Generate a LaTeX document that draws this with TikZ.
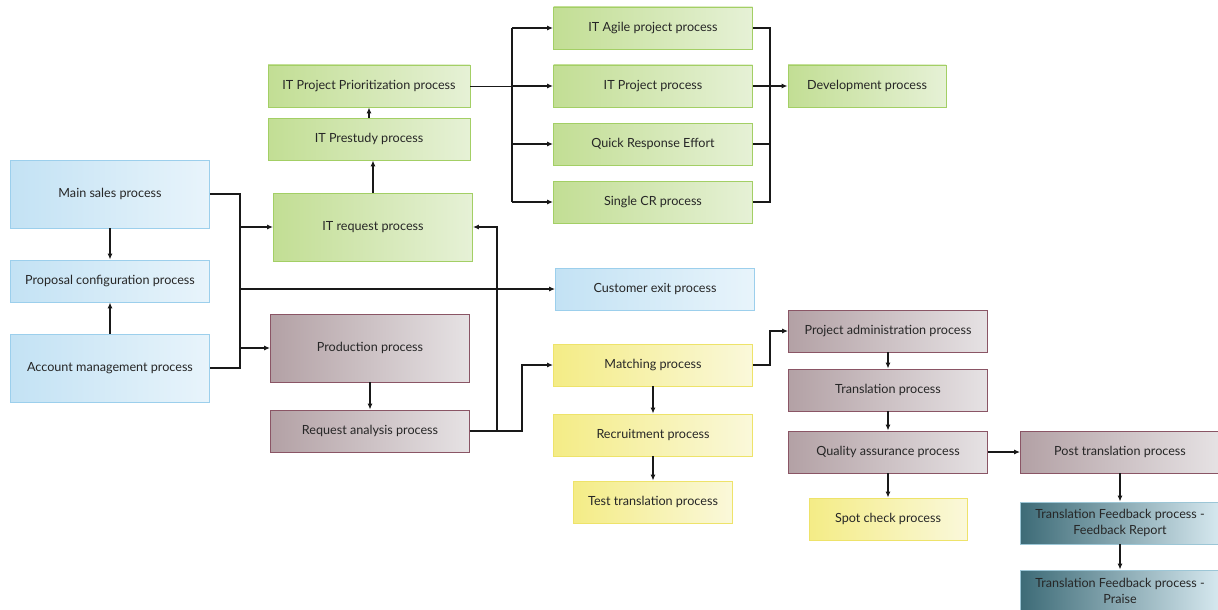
\documentclass[tikz,border=0pt]{standalone}
\usepackage{fontspec}
\setmainfont{Lato}
\usetikzlibrary{arrows.meta}
\definecolor{blueL}{HTML}{C3E2F4}
\definecolor{blueR}{HTML}{E8F4FB}
\definecolor{blueD}{HTML}{9CCFEC}
\definecolor{greenL}{HTML}{C2DE94}
\definecolor{greenR}{HTML}{E6F1D6}
\definecolor{greenD}{HTML}{A3CF65}
\definecolor{mauveL}{HTML}{B3A1A5}
\definecolor{mauveR}{HTML}{E6E2E4}
\definecolor{mauveD}{HTML}{8A5565}
\definecolor{yellowL}{HTML}{F4EC86}
\definecolor{yellowR}{HTML}{FAF8DA}
\definecolor{yellowD}{HTML}{EEE36A}
\definecolor{tealL}{HTML}{3D6B77}
\definecolor{tealR}{HTML}{D6E8EF}
\definecolor{tealD}{HTML}{9CC6D6}
\tikzset{
  proc/.style={draw, line width=0.8pt, minimum width=199pt, minimum height=42pt,
    inner sep=2pt, align=center, text=black!85, font=\fontsize{12.6}{16}\selectfont},
  bluebox/.style={proc, left color=blueL, right color=blueR, draw=blueD},
  greenbox/.style={proc, left color=greenL, right color=greenR, draw=greenD},
  mauvebox/.style={proc, left color=mauveL, right color=mauveR, draw=mauveD},
  yellowbox/.style={proc, left color=yellowL, right color=yellowR, draw=yellowD},
  tealbox/.style={proc, left color=tealL, right color=tealR, draw=tealD},
  link/.style={line width=1.3pt, black!90},
  arr/.style={link, -{Latex[length=6pt,width=5pt]}}
}
\begin{document}
\begin{tikzpicture}[x=1pt,y=1pt]
\useasboundingbox (0,0) rectangle (1218,-610);

   \node[bluebox, minimum height=68pt] at (110,-194) (mainsales) {Main sales process};
   \node[bluebox] at (110,-281) (proposal) {Proposal configuration process};
   \node[bluebox, minimum height=68pt] at (110,-368) (account) {Account management process};
   \node[bluebox] at (655,-289) (custexit) {Customer exit process};

   \node[greenbox, minimum height=68pt] at (373,-227) (itrequest) {IT request process};
   \node[greenbox, minimum width=202pt] at (369,-139) (prestudy) {IT Prestudy process};
   \node[greenbox, minimum width=202pt] at (369,-86) (priority) {IT Project Prioritization process};
   \node[greenbox] at (653,-28) (agile) {IT Agile project process};
   \node[greenbox] at (653,-86) (itproject) {IT Project process};
   \node[greenbox] at (653,-144) (quick) {Quick Response Effort};
   \node[greenbox] at (653,-202) (singlecr) {Single CR process};
   \node[greenbox, minimum width=158pt] at (867,-86) (develop) {Development process};

   \node[mauvebox, minimum height=68pt] at (370,-348) (production) {Production process};
   \node[mauvebox] at (370,-431) (reqanalysis) {Request analysis process};
   \node[mauvebox] at (888,-331) (projadmin) {Project administration process};
   \node[mauvebox] at (888,-390) (translation) {Translation process};
   \node[mauvebox] at (888,-452) (quality) {Quality assurance process};
   \node[mauvebox] at (1120,-452) (posttrans) {Post translation process};

   \node[yellowbox] at (653,-365) (matching) {Matching process};
   \node[yellowbox] at (653,-435) (recruit) {Recruitment process};
   \node[yellowbox, minimum width=159pt] at (653,-502) (testtrans) {Test translation process};
   \node[yellowbox, minimum width=158pt] at (888,-519) (spotcheck) {Spot check process};

   \node[tealbox] at (1120,-523) (fbreport) {Translation Feedback process -\\Feedback Report};
   \node[tealbox] at (1120,-591) (fbpraise) {Translation Feedback process -\\Praise};

   \coordinate (lbus) at (240,-194);
   \coordinate (tbus) at (512,-86);
   \coordinate (rbus) at (770,-28);
   \coordinate (abus) at (497,-431);
   \coordinate (mbus) at (522,-431);
   \coordinate (ybus) at (770,-365);

   \draw[link] (mainsales.east) -- (lbus) -- (lbus |- account.east) -- (account.east);
   \draw[arr] (lbus |- itrequest.west) -- (itrequest.west);
   \draw[arr] (lbus |- custexit.west) -- (custexit.west);
   \draw[arr] (lbus |- production.west) -- (production.west);
   \draw[arr] (mainsales) -- (proposal);
   \draw[arr] (account) -- (proposal);

   \draw[arr] (itrequest.north) -- (itrequest.north |- prestudy.south);
   \draw[arr] (prestudy) -- (priority);
   \draw[link, line width=0.9pt] (priority.east) -- (tbus);
   \draw[link] (tbus |- agile.west) -- (tbus |- singlecr.west);
   \draw[arr] (tbus |- agile.west) -- (agile.west);
   \draw[arr] (tbus |- itproject.west) -- (itproject.west);
   \draw[arr] (tbus |- quick.west) -- (quick.west);
   \draw[arr] (tbus |- singlecr.west) -- (singlecr.west);
   \draw[link] (agile.east) -- (rbus) -- (rbus |- singlecr.east) -- (singlecr.east);
   \draw[link] (quick.east) -- (rbus |- quick.east);
   \draw[arr] (itproject.east) -- (develop.west);

   \draw[arr] (production) -- (reqanalysis);
   \draw[arr] (reqanalysis.east) -- (abus) |- (itrequest.east);
   \draw[arr] (reqanalysis.east) -- (mbus) |- (matching.west);
   \draw[arr] (matching.east) -- (ybus) |- (projadmin.west);
   \draw[arr] (matching) -- (recruit);
   \draw[arr] (recruit) -- (testtrans);

   \draw[arr] (projadmin) -- (translation);
   \draw[arr] (translation) -- (quality);
   \draw[arr] (quality) -- (spotcheck);
   \draw[arr] (quality) -- (posttrans);
   \draw[arr] (posttrans) -- (fbreport);
   \draw[arr] (fbreport) -- (fbpraise);

\end{tikzpicture}
\end{document}
